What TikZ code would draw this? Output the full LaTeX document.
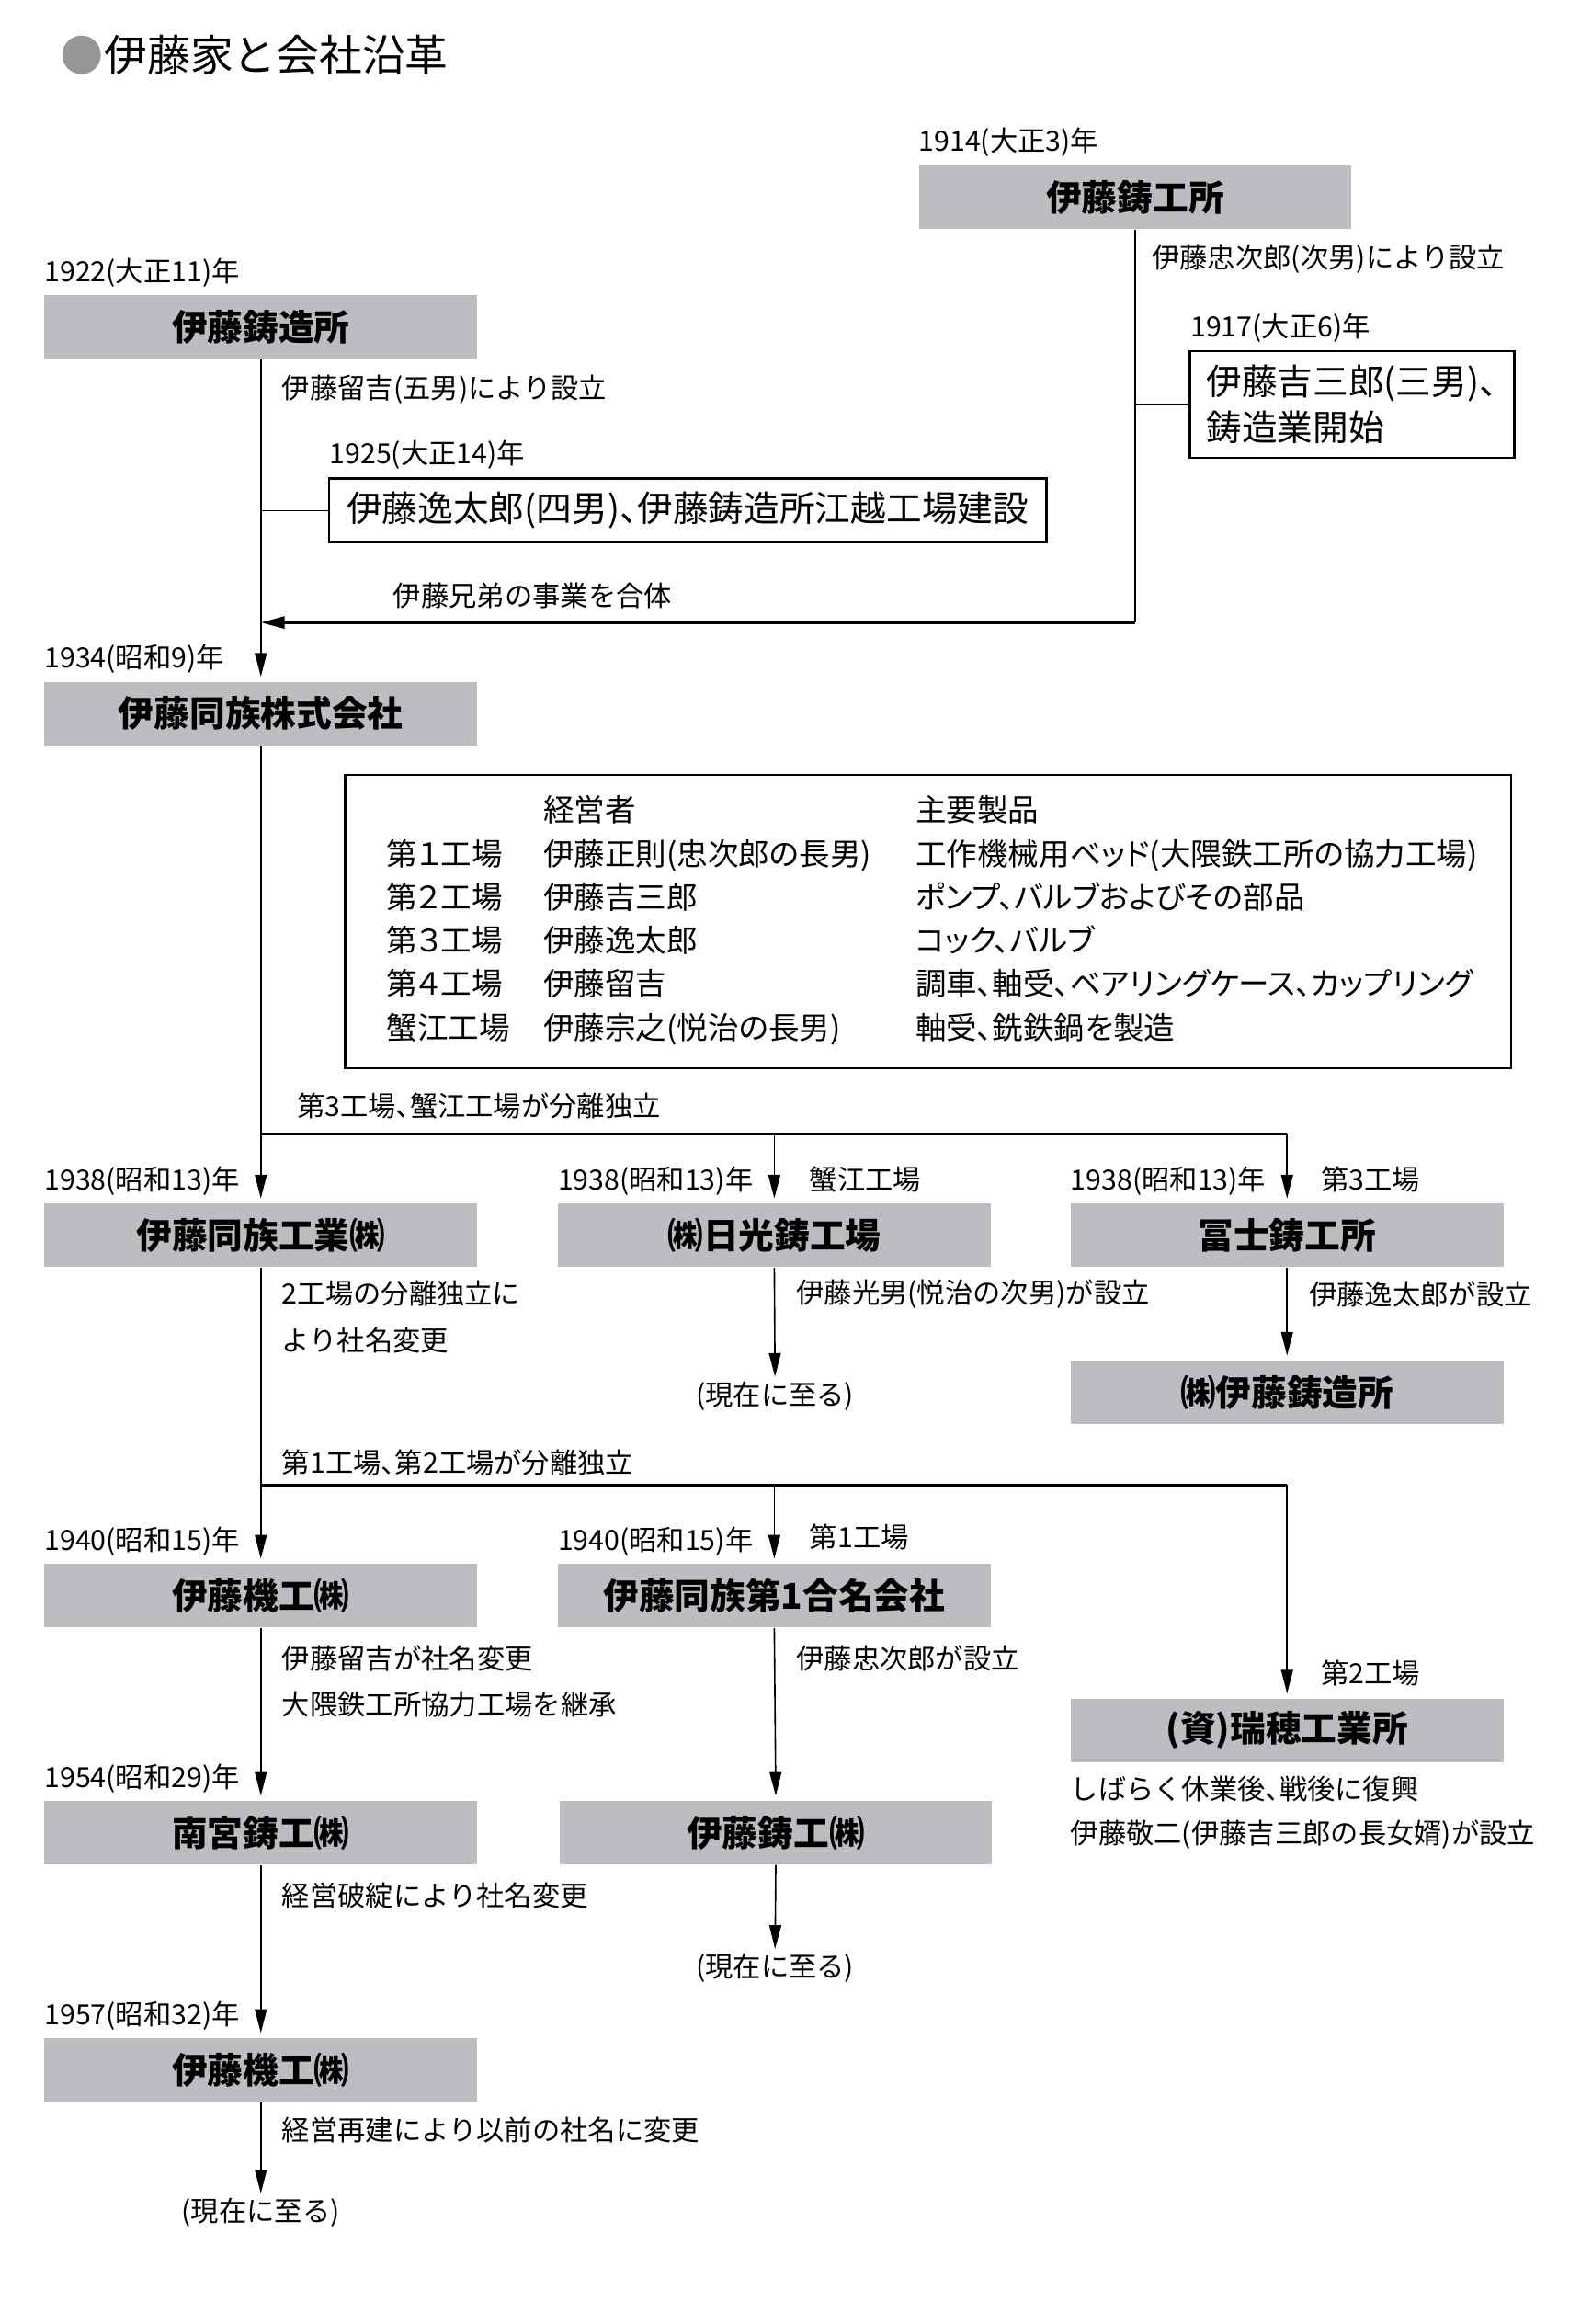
\documentclass[tikz,border=0pt]{standalone}
\usepackage{fontspec}
\setmainfont{Noto Sans CJK JP}[RawFeature=+halt]
\newfontfamily\tablefont{Noto Sans CJK JP}[RawFeature=+palt]
\usetikzlibrary{arrows.meta}
\definecolor{boxgray}{RGB}{188,189,192}
\definecolor{dotgray}{RGB}{150,150,150}

\begin{document}
\begin{tikzpicture}[
	x=0.5pt, y=-0.5pt,
	firm/.style={ fill=boxgray, inner sep=0pt, minimum width=146pt, minimum height=21.5pt, font=\bfseries\fontsize{12}{14}\selectfont },
	memo/.style={ draw, line width=0.8pt, inner sep=0pt, minimum height=21.5pt, font=\fontsize{12}{15}\selectfont },
	note/.style={ anchor=west, inner sep=0pt, font=\fontsize{9.4}{11}\selectfont },
	now/.style={ inner sep=0pt, font=\fontsize{9.4}{11}\selectfont },
	year/.style={ anchor=base west, inner sep=0pt, yshift=4.4pt, font=\fontsize{9.4}{11}\selectfont },
	arr/.style={ line width=0.5pt, -{Triangle[length=8pt,width=4pt]}, shorten >=1.5pt },
	link/.style={ line width=0.5pt },
	bar/.style={ line width=1pt }
]
\useasboundingbox (0,0) rectangle (1074,1568);

\node at (55,37) (dot) [circle, fill=dotgray, minimum size=13pt, inner sep=0pt] {};
\node at (70,37) (title) [anchor=west, inner sep=0pt, font=\fontsize{14.5}{17}\selectfont] {伊藤家と会社沿革};

% before 1934
\node at (766,133) (koujo) [firm,label={[year]north west:1914(大正3)年}] {伊藤鋳工所};
\node at (176,220.5) (chuzo) [firm,label={[year]north west:1922(大正11)年}] {伊藤鋳造所};
\node at (777,175) (chujiro) [note] {伊藤忠次郎(次男)により設立};
\node at (190,263) (tomekichi) [note] {伊藤留吉(五男)により設立};
\node at (803,221) (y1917) [note] {1917(大正6)年};
\node at (912.5,273) (kichisaburo) [memo, minimum width=109.5pt, minimum height=36pt, text width=98.5pt, inner xsep=5.5pt, align=left, font=\fontsize{12}{15.5}\selectfont] {伊藤吉三郎(三男)、\\鋳造業開始};
\node at (222,307) (y1925) [note] {1925(大正14)年};
\node at (464,344.5) (itsutaro) [memo, minimum width=242pt] {伊藤逸太郎(四男)、伊藤鋳造所江越工場建設};
\node at (265,402) (gattai) [note] {伊藤兄弟の事業を合体};

\coordinate (j1917) at (766,273);
\coordinate (j1925) at (176,344.5);
\coordinate (mergeR) at (766,420);
\coordinate (mergeL) at (176,420);
\draw[link] (koujo.south) -- (mergeR);
\draw[link] (j1917) -- (kichisaburo.west);
\draw[bar, -{Triangle[length=8pt,width=4pt]}] (mergeR) -- (mergeL);
\draw[link] (j1925) -- (itsutaro.west);

\node at (176,481.5) (douzoku) [firm,label={[year]north west:1934(昭和9)年}] {伊藤同族株式会社};
\draw[arr] (chuzo.south) -- (douzoku.north);

% factories
\node at (232,522) (factories) [draw, line width=0.8pt, anchor=north west, minimum width=393.5pt, minimum height=99pt, inner xsep=14pt, inner ysep=5.25pt, text width=365.5pt, font=\tablefont\fontsize{10.4}{14.65}\selectfont] {%
\begin{tabular}{@{}p{53pt}@{}p{125.5pt}@{}l@{}}
 & 経営者 & 主要製品\\
第１工場 & 伊藤正則(忠次郎の長男) & 工作機械用ベッド(大隈鉄工所の協力工場)\\
第２工場 & 伊藤吉三郎 & ポンプ、バルブおよびその部品\\
第３工場 & 伊藤逸太郎 & コック、バルブ\\
第４工場 & 伊藤留吉 & 調車、軸受、ベアリングケース、カップリング\\
蟹江工場 & 伊藤宗之(悦治の長男) & 軸受、銑鉄鍋を製造
\end{tabular}};

% 1938
\node at (200,746) (split1txt) [note] {第3工場、蟹江工場が分離独立};
\node at (176,833.5) (kogyo) [firm,label={[year]north west:1938(昭和13)年}] {伊藤同族工業㈱};
\node at (522.5,833.5) (nikko) [firm,label={[year]north west:1938(昭和13)年}] {㈱日光鋳工場};
\node at (868.5,833.5) (fuji) [firm,label={[year]north west:1938(昭和13)年}] {冨士鋳工所};
\node at (546,796) (kanie) [note] {蟹江工場};
\node at (891,796) (dai3) [note] {第3工場};

\coordinate (split1) at (176,765);
\coordinate (split1m) at (522.5,765);
\coordinate (split1r) at (868.5,765);
\draw[arr] (douzoku.south) -- (kogyo.north);
\draw[bar] (split1) -- (split1r);
\draw[arr] (split1m) -- (nikko.north);
\draw[arr] (split1r) -- (fuji.north);

\node at (190,873) (meihen1) [note] {2工場の分離独立に};
\node at (190,904) (meihen2) [note] {より社名変更};
\node at (537,873) (mitsuo) [note] {伊藤光男(悦治の次男)が設立};
\node at (883,873) (itsusetsu) [note] {伊藤逸太郎が設立};
\node at (523,942) (now1) [now] {(現在に至る)};
\node at (868.5,939.5) (itochuzo) [firm] {㈱伊藤鋳造所};
\draw[arr] (nikko.south) -- (now1.north);
\draw[arr] (fuji.south) -- (itochuzo.north);

% 1940
\node at (190,987) (split2txt) [note] {第1工場、第2工場が分離独立};
\node at (176,1076.5) (kiko) [firm,label={[year]north west:1940(昭和15)年}] {伊藤機工㈱};
\node at (522.5,1076.5) (goumei) [firm,label={[year]north west:1940(昭和15)年}] {伊藤同族第1合名会社};
\node at (868.5,1167.5) (mizuho) [firm] {(資)瑞穂工業所};
\node at (546,1037) (dai1) [note] {第1工場};
\node at (891,1129) (dai2) [note] {第2工場};

\coordinate (split2) at (176,1002);
\coordinate (split2m) at (522.5,1002);
\coordinate (split2r) at (868.5,1002);
\draw[arr] (kogyo.south) -- (kiko.north);
\draw[bar] (split2) -- (split2r);
\draw[arr] (split2m) -- (goumei.north);
\draw[arr] (split2r) -- (mizuho.north);

\node at (190,1119) (tomemei) [note] {伊藤留吉が社名変更};
\node at (190,1150) (okuma) [note] {大隈鉄工所協力工場を継承};
\node at (537,1119) (chusetsu) [note] {伊藤忠次郎が設立};
\node at (722,1207) (kyugyo) [note] {しばらく休業後、戦後に復興};
\node at (722,1238) (keiji) [note] {伊藤敬二(伊藤吉三郎の長女婿)が設立};

% 1954, 1957
\node at (176,1236.5) (nangu) [firm,label={[year]north west:1954(昭和29)年}] {南宮鋳工㈱};
\node at (523.5,1236.5) (itochuko) [firm] {伊藤鋳工㈱};
\draw[arr] (kiko.south) -- (nangu.north);
\draw[arr] (goumei.south) -- (itochuko.north);
\node at (523,1328) (now2) [now] {(現在に至る)};
\draw[arr] (itochuko.south) -- (now2.north);

\node at (190,1279) (hatan) [note] {経営破綻により社名変更};
\node at (176,1396.5) (kiko2) [firm,label={[year]north west:1957(昭和32)年}] {伊藤機工㈱};
\draw[arr] (nangu.south) -- (kiko2.north);
\node at (190,1437) (saiken) [note] {経営再建により以前の社名に変更};
\node at (176,1493) (now3) [now] {(現在に至る)};
\draw[arr] (kiko2.south) -- (now3.north);

\end{tikzpicture}
\end{document}
